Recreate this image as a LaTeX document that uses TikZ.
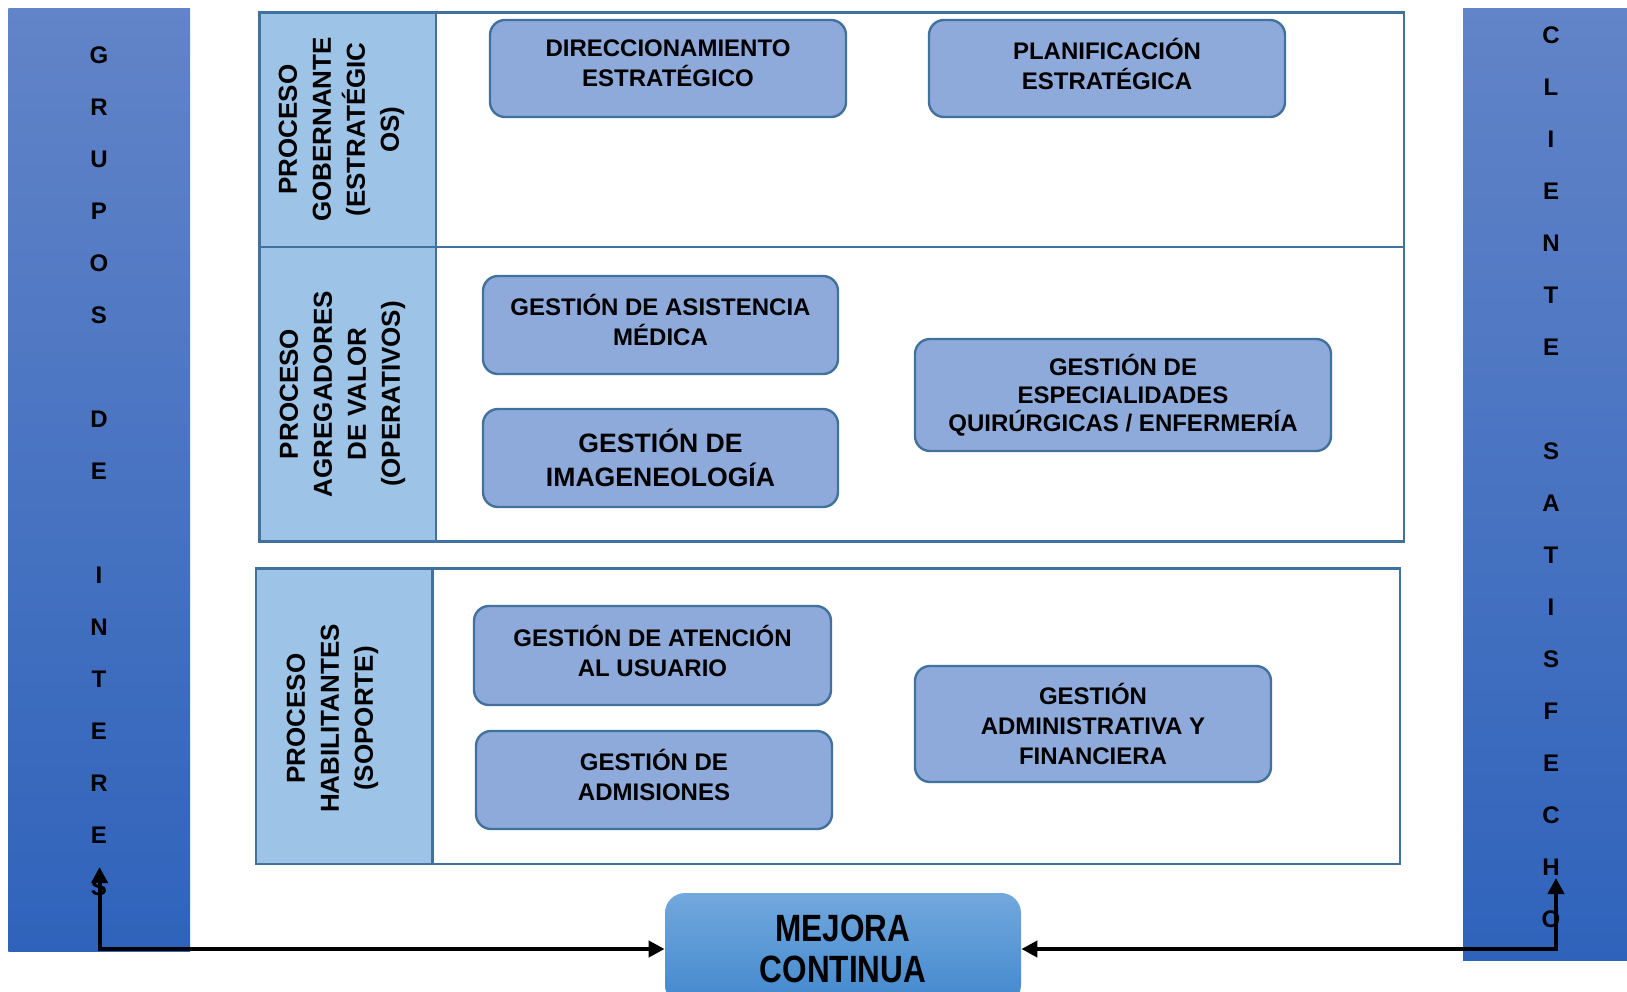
\documentclass[tikz,border=0pt]{standalone}
\usepackage{fontspec}
\setmainfont{Liberation Sans}
\newfontfamily\narrowsans[FakeStretch=0.83]{Liberation Sans}
\usetikzlibrary{arrows.meta}
\definecolor{barTop}{RGB}{98,132,200}
\definecolor{barBot}{RGB}{47,99,187}
\definecolor{lblFill}{RGB}{157,195,230}
\definecolor{edge}{RGB}{65,113,156}
\definecolor{boxFill}{RGB}{142,170,219}
\definecolor{mcTop}{RGB}{114,168,220}
\definecolor{mcBot}{RGB}{66,136,206}
\begin{document}
\begin{tikzpicture}[x=0.5pt,y=-0.5pt,
 bar/.style={rectangle, draw=none, top color=barTop, bottom color=barBot, inner sep=0pt},
 barlbl/.style={align=center, font=\bfseries\fontsize{12}{26}\selectfont, inner sep=0pt},
 row/.style={rectangle, draw=edge, line width=1.4pt, inner sep=0pt},
 lblcol/.style={rectangle, draw=edge, fill=lblFill, line width=1.4pt, inner sep=0pt},
 lbltxt/.style={rotate=90, align=center, font=\bfseries\fontsize{13}{17}\selectfont, inner sep=0pt},
 proc/.style={rectangle, rounded corners=7.5pt, draw=edge, fill=boxFill, line width=1.2pt, align=center, inner sep=0pt, font=\bfseries\fontsize{12}{15}\selectfont},
 up/.style={text depth=5pt},
 mc/.style={rectangle, rounded corners=10pt, draw=none, top color=mcTop, bottom color=mcBot, align=center, inner sep=0pt, font=\narrowsans\bfseries\fontsize{19}{20.75}\selectfont},
 link/.style={line width=2pt, {Triangle[length=8pt,width=8pt]}-{Triangle[length=8pt,width=8pt]}}
]
\useasboundingbox (0,0) rectangle (1627,991);
\clip (0,0) rectangle (1627,991);

% side bars
\node[bar, minimum width=90.85pt, minimum height=471.6pt] (leftbar) at (99.15,479.9) {};
\node[bar, minimum width=88.5pt, minimum height=475.85pt] (rightbar) at (1551.5,484.15) {};
\node[barlbl] (leftlbl) at (99,470.8) {G\\R\\U\\P\\O\\S\\\mbox{}\\D\\E\\\mbox{}\\I\\N\\T\\E\\R\\E\\S};
\node[barlbl] (rightlbl) at (1551,477.1) {C\\L\\I\\E\\N\\T\\E\\\mbox{}\\S\\A\\T\\I\\S\\F\\E\\C\\H\\O};

% process rows
\node[row, minimum width=572.3pt, minimum height=117.25pt] (row1) at (831.7,129.75) {};
\node[row, minimum width=572.3pt, minimum height=147.3pt] (row2) at (831.7,394.3) {};
\node[row, minimum width=572pt, minimum height=147.7pt] (row3) at (828,716.3) {};
\node[lblcol, minimum width=88.3pt, minimum height=117.25pt] (col1) at (347.7,129.75) {};
\node[lblcol, minimum width=88.3pt, minimum height=147.3pt] (col2) at (347.7,394.3) {};
\node[lblcol, minimum width=88.35pt, minimum height=147.7pt] (col3) at (344.35,716.3) {};
\node[lbltxt] (lbl1) at (341.5,129.5) {PROCESO\\GOBERNANTE\\(ESTRATÉGIC\\OS)};
\node[lbltxt] (lbl2) at (342.5,394) {PROCESO\\AGREGADORES\\DE VALOR\\(OPERATIVOS)};
\node[lbltxt] (lbl3) at (332.6,718.5) {PROCESO\\HABILITANTES\\(SOPORTE)};

% process boxes
\node[proc, up, minimum width=178pt, minimum height=48.5pt] (dir) at (668,68.5) {DIRECCIONAMIENTO\\ESTRATÉGICO};
\node[proc, up, minimum width=178pt, minimum height=48.5pt] (plan) at (1107,68.5) {PLANIFICACIÓN\\ESTRATÉGICA};
\node[proc, up, minimum width=177.5pt, minimum height=49pt] (asis) at (660.5,325) {GESTIÓN DE ASISTENCIA\\MÉDICA};
\node[proc, minimum width=177.5pt, minimum height=49pt, font=\bfseries\fontsize{13.3}{17}\selectfont] (imag) at (660.5,458) {GESTIÓN DE\\IMAGENEOLOGÍA};
\node[proc, minimum width=208pt, minimum height=56pt, font=\bfseries\fontsize{12}{14}\selectfont] (espec) at (1123,395) {GESTIÓN DE\\ESPECIALIDADES\\QUIRÚRGICAS / ENFERMERÍA};
\node[proc, up, minimum width=178.5pt, minimum height=49.5pt] (aten) at (652.5,655.5) {GESTIÓN DE ATENCIÓN\\AL USUARIO};
\node[proc, up, minimum width=178pt, minimum height=49pt] (admis) at (654,780) {GESTIÓN DE\\ADMISIONES};
\node[proc, minimum width=178pt, minimum height=58pt] (admin) at (1093,724) {GESTIÓN\\ADMINISTRATIVA Y\\FINANCIERA};

% mejora continua
\node[mc, minimum width=178pt, minimum height=56pt] (mejora) at (843,949) {MEJORA\\CONTINUA};

% connectors
\coordinate (la) at (99.6,867);
\coordinate (ra) at (1556,878);
\draw[link] (la) |- (mejora.west);
\draw[link] (ra) |- (mejora.east);
\end{tikzpicture}
\end{document}
